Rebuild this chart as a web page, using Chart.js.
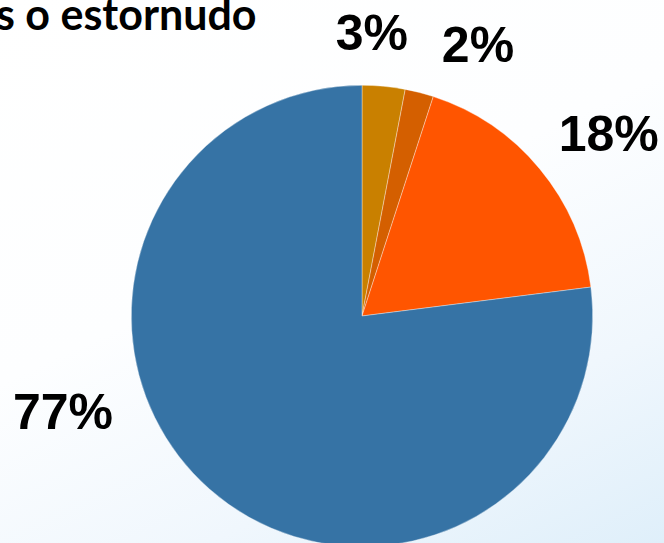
<!DOCTYPE html>
<html>
<head>
<meta charset="utf-8">
<script src="https://cdn.jsdelivr.net/npm/chart.js@4"></script>
<style>
  html, body { margin: 0; padding: 0; }
  body {
    width: 664px; height: 543px; overflow: hidden; position: relative;
    background: linear-gradient(155deg, #ffffff 0%, #fdfeff 45%, #f0f7fd 75%, #dfeffa 100%);
  }
  #title {
    position: absolute; left: -4px; top: -8px; line-height: 1;
    font-family: Lato, "Open Sans", sans-serif; font-weight: bold; font-size: 43px;
    color: #000; white-space: nowrap;
  }
  #wrap { position: absolute; left: 0; top: 0; width: 664px; height: 600px; }
</style>
</head>
<body>
<div id="title">s o estornudo</div>
<div id="wrap"><canvas id="pie"></canvas></div>
<script>
// ----------------- DATA -----------------
const categories = ["A", "B", "C", "D"];
const values = [3, 2, 18, 77];
const valueLabels = ["3%", "2%", "18%", "77%"];
const sliceColors = ["#C98000", "#D45F00", "#FF5500", "#3673A5"];

// where each percentage sits, as angle (deg clockwise from top) and distance from centre
const labelAngle = [2, 23.4, 54, 251.7];
const labelDist = [280, 292, 305, 315];

// ----------------- LABEL PLUGIN -----------------
const pctLabels = {
    id: "pctLabels",
    afterDatasetsDraw(chart) {
        const ctx = chart.ctx;
        const arc = chart.getDatasetMeta(0).data[0];
        const cx = arc.x, cy = arc.y;
        ctx.save();
        ctx.font = "bold 50px 'Liberation Sans', Arial, sans-serif";
        ctx.fillStyle = "#000";
        ctx.textAlign = "center";
        ctx.textBaseline = "middle";
        valueLabels.forEach((txt, i) => {
            const a = labelAngle[i] * Math.PI / 180;
            const x = cx + Math.sin(a) * labelDist[i];
            const y = cy - Math.cos(a) * labelDist[i];
            ctx.fillText(txt, x, y);
        });
        ctx.restore();
    }
};

// ----------------- CHART -----------------
const ctx = document.getElementById("pie").getContext("2d");

new Chart(ctx, {
    type: "pie",
    data: {
        labels: categories,
        datasets: [{
            data: values,
            backgroundColor: sliceColors,
            borderColor: "rgba(255,255,255,0.6)",
            borderWidth: 0.6
        }]
    },
    options: {
        responsive: true,
        maintainAspectRatio: false,
        animation: false,
        layout: { padding: { left: 131, top: 85, right: 71, bottom: 53 } },
        plugins: {
            legend: { display: false },
            tooltip: { enabled: false }
        }
    },
    plugins: [pctLabels]
});
</script>
</body>
</html>
